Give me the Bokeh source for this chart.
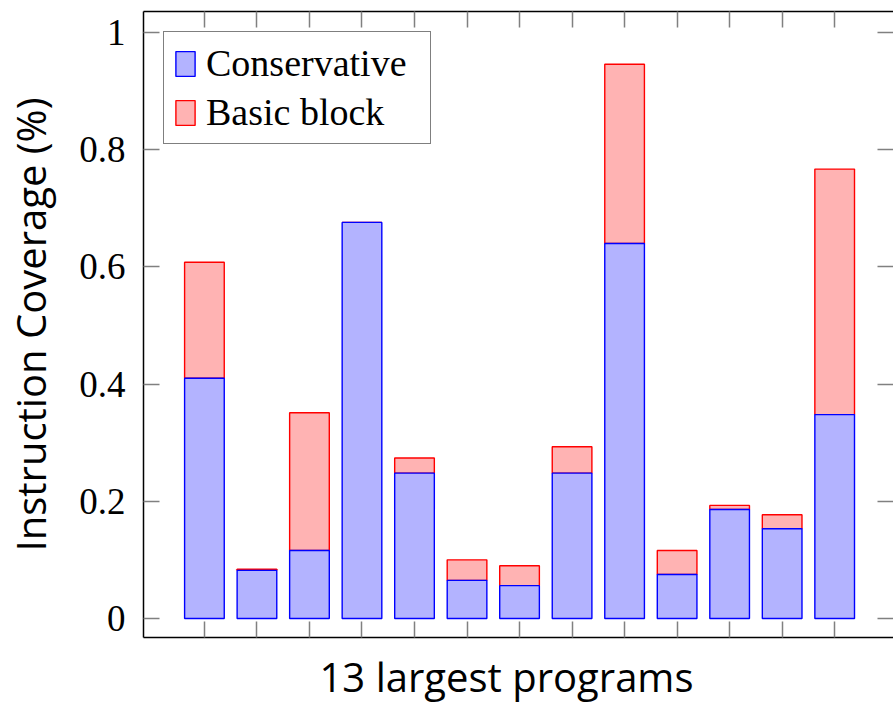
from bokeh.plotting import figure
from bokeh.models import (Range1d, LinearAxis, FixedTicker, Legend, LegendItem,
                          Title, ColumnDataSource)
from bokeh.embed import file_html
from bokeh.resources import INLINE

# ---- data -------------------------------------------------------------
programs = list(range(13))  # the 13 largest programs (unnamed)
conservative = [0.410, 0.082, 0.116, 0.676, 0.248, 0.065, 0.056,
                0.248, 0.640, 0.075, 0.186, 0.153, 0.348]
basic_block = [0.608, 0.084, 0.351, 0.676, 0.274, 0.100, 0.090,
               0.293, 0.946, 0.116, 0.193, 0.177, 0.767]
y_ticks = [0, 0.2, 0.4, 0.6, 0.8, 1]
y_tick_labels = {0: "0", 0.2: "0.2", 0.4: "0.4", 0.6: "0.6", 0.8: "0.8", 1: "1"}

src = ColumnDataSource(dict(x=programs, cons=conservative, bb=basic_block,
                            zero=[0] * len(programs)))

SERIF = "Liberation Serif"
SANS = "Open Sans"

p = figure(width=893, height=712, output_backend="svg", toolbar_location=None,
           x_range=Range1d(-1.16, 13.12), y_range=Range1d(-0.0325, 1.036),
           x_axis_location=None, y_axis_location=None,
           min_border_left=143, min_border_top=11, min_border_right=0,
           min_border_bottom=75)
p.outline_line_color = None
p.xgrid.visible = False
p.ygrid.visible = False
p.background_fill_color = "white"
p.border_fill_color = "white"

BW = 0.755
r_bb = p.vbar(x="x", bottom="cons", top="bb", width=BW, source=src,
              fill_color="#ffb3b3", line_color="#ff0000", line_width=1.4)
r_cons = p.vbar(x="x", bottom="zero", top="cons", width=BW, source=src,
                fill_color="#b3b3ff", line_color="#0000ff", line_width=1.4)


def style_axis(ax, labels=False):
    ax.major_tick_in = 16
    ax.major_tick_out = 0
    ax.minor_tick_in = 0
    ax.minor_tick_out = 0
    ax.major_tick_line_color = "#808080"
    ax.major_tick_line_width = 1.5
    ax.axis_line_color = "black"
    ax.axis_line_width = 1.5
    if not labels:
        ax.major_label_text_color = None
        ax.major_label_standoff = 0


# left axis
left = LinearAxis(ticker=FixedTicker(ticks=y_ticks))
style_axis(left, labels=True)
left.major_label_overrides = y_tick_labels
left.major_label_text_font = SERIF
left.major_label_text_font_size = "37px"
left.major_label_text_color = "black"
left.major_label_standoff = 18
left.axis_label = "Instruction Coverage (%)"
left.axis_label_text_font = SANS
left.axis_label_text_font_size = "40px"
left.axis_label_text_font_style = "normal"
left.axis_label_text_color = "black"
left.axis_label_standoff = 18
p.add_layout(left, "left")

# right axis (ticks only)
right = LinearAxis(ticker=FixedTicker(ticks=y_ticks))
style_axis(right)
right.axis_line_color = None
p.add_layout(right, "right")

# top axis (ticks only)
top = LinearAxis(ticker=FixedTicker(ticks=programs))
style_axis(top)
p.add_layout(top, "above")

# bottom axis (ticks only)
bottom = LinearAxis(ticker=FixedTicker(ticks=programs))
style_axis(bottom)
p.add_layout(bottom, "below")

# x title
xt = Title(text="13 largest programs", align="left", offset=176,
           text_font=SANS, text_font_size="40px", text_font_style="normal",
           text_color="black", standoff=18)
p.add_layout(xt, "below")

legend = Legend(items=[LegendItem(label="Conservative", renderers=[r_cons]),
                       LegendItem(label="Basic block", renderers=[r_bb])],
                location="top_left")
legend.margin = 20
legend.padding = 9
legend.spacing = 5
legend.glyph_width = 24
legend.glyph_height = 31
legend.label_standoff = 9
legend.label_width = 215
legend.label_height = 41
legend.label_text_font = SERIF
legend.label_text_font_size = "38px"
legend.label_text_color = "black"
legend.border_line_color = "black"
legend.border_line_width = 1.5
legend.background_fill_color = "white"
legend.background_fill_alpha = 1.0
p.add_layout(legend, "center")

open("out.html", "w").write(file_html(p, INLINE))
